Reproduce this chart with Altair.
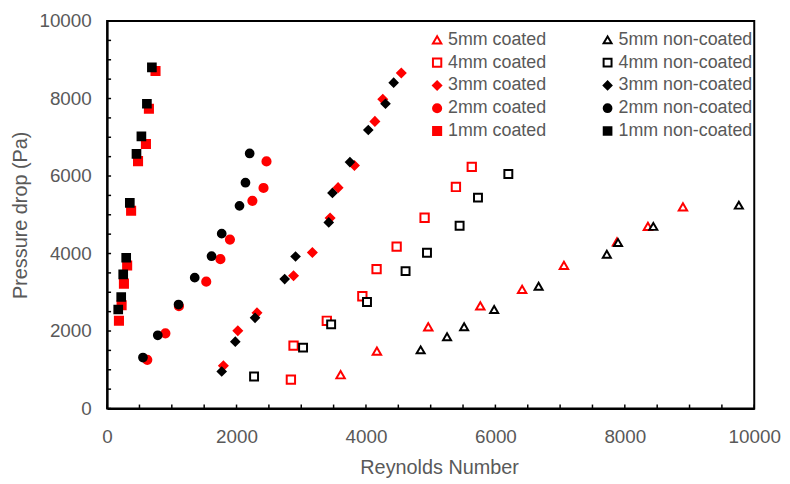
import altair as alt
import pandas as pd

# ---- data ----
series_names = ["5mm coated", "5mm non-coated", "4mm coated", "4mm non-coated",
                "3mm coated", "3mm non-coated", "2mm coated", "2mm non-coated",
                "1mm coated", "1mm non-coated"]

re_5c = [3608, 4169, 4963, 5767, 6413, 7059, 7879, 8357, 8898]
dp_5c = [872, 1479, 2110, 2649, 3077, 3692, 4300, 4700, 5205]
re_5n = [4845, 5253, 5517, 5981, 6668, 7722, 7895, 8440, 9762]
dp_5n = [1513, 1854, 2110, 2556, 3154, 3982, 4282, 4700, 5248]

re_4c = [2840, 2881, 3395, 3944, 4164, 4474, 4906, 5390, 5635]
dp_4c = [744, 1623, 2264, 2897, 3597, 4179, 4923, 5718, 6238]
re_4n = [2271, 3028, 3462, 4016, 4612, 4943, 5447, 5731, 6200]
dp_4n = [828, 1572, 2172, 2751, 3546, 4018, 4718, 5443, 6051]

re_3c = [1797, 2020, 2316, 2881, 3172, 3446, 3569, 3822, 4138, 4260, 4546]
dp_3c = [1103, 2008, 2469, 3428, 4025, 4915, 5700, 6274, 7410, 7982, 8659]
re_3n = [1771, 1981, 2286, 2744, 2912, 3425, 3482, 3752, 4036, 4302, 4428]
dp_3n = [956, 1726, 2341, 3341, 3923, 4803, 5564, 6359, 7187, 7864, 8410]

re_2c = [621, 901, 1110, 1532, 1751, 1898, 2245, 2417, 2463]
dp_2c = [1256, 1941, 2641, 3274, 3854, 4359, 5359, 5692, 6377]
re_2n = [554, 783, 1104, 1354, 1614, 1771, 2046, 2138, 2203]
dp_2n = [1315, 1890, 2684, 3377, 3931, 4513, 5231, 5828, 6582]

re_1c = [183, 224, 260, 310, 371, 478, 600, 646, 748]
dp_1c = [2264, 2667, 3223, 3692, 5102, 6384, 6828, 7735, 8710]
re_1n = [172, 218, 249, 295, 351, 454, 530, 615, 692]
dp_1n = [2556, 2879, 3461, 3890, 5307, 6572, 7025, 7864, 8802]

x_ticks = [0, 500, 1000, 1500, 2000, 2500, 3000, 3500, 4000, 4500, 5000,
           5500, 6000, 6500, 7000, 7500, 8000, 8500, 9000, 9500, 10000]
y_ticks = x_ticks
label_values = [0, 2000, 4000, 6000, 8000, 10000]

# legend order (column-major fill: coated column, then non-coated column)
legend_order = [s for s in series_names if "non" not in s] + [s for s in series_names if "non" in s]

# ---- styles ----
style = {
    "5mm coated": ("triangle-up", "#FF0000", "white", 72),
    "5mm non-coated": ("triangle-up", "#000000", "white", 72),
    "4mm coated": ("square", "#FF0000", "white", 60),
    "4mm non-coated": ("square", "#000000", "white", 60),
    "3mm coated": ("diamond", "#FF0000", "#FF0000", 64),
    "3mm non-coated": ("diamond", "#000000", "#000000", 64),
    "2mm coated": ("circle", "#FF0000", "#FF0000", 64),
    "2mm non-coated": ("circle", "#000000", "#000000", 64),
    "1mm coated": ("square", "#FF0000", "#FF0000", 90),
    "1mm non-coated": ("square", "#000000", "#000000", 90),
}
shapes = [style[s][0] for s in legend_order]
strokes = [style[s][1] for s in legend_order]
fills = [style[s][2] for s in legend_order]
sizes = [style[s][3] for s in legend_order]

series_data = {
    "5mm coated": (re_5c, dp_5c), "5mm non-coated": (re_5n, dp_5n),
    "4mm coated": (re_4c, dp_4c), "4mm non-coated": (re_4n, dp_4n),
    "3mm coated": (re_3c, dp_3c), "3mm non-coated": (re_3n, dp_3n),
    "2mm coated": (re_2c, dp_2c), "2mm non-coated": (re_2n, dp_2n),
    "1mm coated": (re_1c, dp_1c), "1mm non-coated": (re_1n, dp_1n),
}
rows = []
for s in legend_order:
    xs, ys = series_data[s]
    for a, b in zip(xs, ys):
        rows.append({"series": s, "Re": a, "dp": b})
df = pd.DataFrame(rows)

FONT = "Liberation Sans"
GREY = "#595959"
W, H = 653, 391

x_enc = alt.X("Re:Q", title="Reynolds Number",
              scale=alt.Scale(domain=[0, 10000], nice=False, zero=True),
              axis=alt.Axis(values=label_values, format="d", ticks=False, grid=False,
                            domainColor="black", domainWidth=2,
                            labelFont=FONT, labelFontSize=19, labelColor=GREY,
                            labelPadding=19, labelFlush=False,
                            titleFont=FONT, titleFontSize=20, titleColor=GREY,
                            titleFontWeight="normal", titleX=335, titleY=60,
                            titleBaseline="middle"))
y_enc = alt.Y("dp:Q", title="Pressure drop (Pa)",
              scale=alt.Scale(domain=[0, 10000], nice=False, zero=True),
              axis=alt.Axis(values=label_values, format="d", ticks=False, grid=False,
                            domainColor="black", domainWidth=2,
                            labelFont=FONT, labelFontSize=19, labelColor=GREY,
                            labelPadding=16, labelFlush=False,
                            titleFont=FONT, titleFontSize=20, titleColor=GREY,
                            titleFontWeight="normal", titleX=-87, titleY=H / 2,
                            titleBaseline="middle", titleAlign="center"))

leg = alt.Legend(title=None, orient="none", legendX=324, legendY=10, columns=2,
                 columnPadding=52, rowPadding=5, labelFont=FONT, labelFontSize=18,
                 labelColor=GREY, labelOffset=2, symbolStrokeWidth=2, padding=0)

points = alt.Chart(df).mark_point(strokeWidth=2, opacity=1).encode(
    x=x_enc, y=y_enc,
    shape=alt.Shape("series:N", scale=alt.Scale(domain=legend_order, range=shapes), legend=leg),
    stroke=alt.Stroke("series:N", scale=alt.Scale(domain=legend_order, range=strokes), legend=leg),
    fill=alt.Fill("series:N", scale=alt.Scale(domain=legend_order, range=fills), legend=leg),
    size=alt.Size("series:N", scale=alt.Scale(domain=legend_order, range=sizes), legend=leg),
)

xt = pd.DataFrame({"Re": x_ticks})
yt = pd.DataFrame({"dp": y_ticks})
xtick_layer = alt.Chart(xt).mark_rule(color="black", strokeWidth=1.5).encode(
    x=x_enc, y=alt.value(H), y2=alt.value(H - 4))
ytick_layer = alt.Chart(yt).mark_rule(color="black", strokeWidth=1.5).encode(
    y=y_enc, x=alt.value(0), x2=alt.value(4))

chart = alt.layer(xtick_layer, ytick_layer, points).properties(
    width=W, height=H,
    autosize=alt.AutoSizeParams(type="none"),
    padding={"left": 100, "top": 11, "right": 28, "bottom": 72},
).configure_view(stroke="black", strokeWidth=2)

chart.save("out.html", embed_options={"renderer": "svg", "actions": False})
